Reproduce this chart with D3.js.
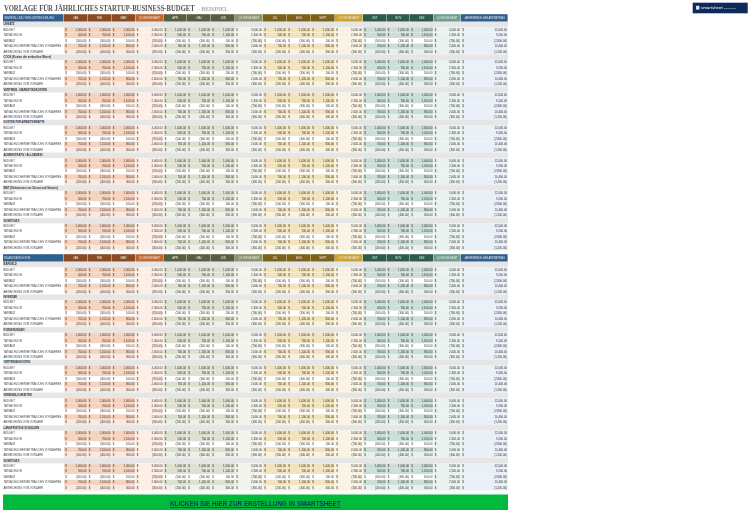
<!DOCTYPE html>
<html>
<head>
<meta charset="utf-8">
<script src="https://cdn.jsdelivr.net/npm/d3@7/dist/d3.min.js"></script>
<style>
  html, body { margin: 0; padding: 0; background: #fff; }
  svg { display: block; filter: blur(0.3px); }
  text { font-family: "Liberation Sans", Arial, sans-serif; }
</style>
</head>
<body>
<div id="chart"></div>
<script>
// data
var title = "VORLAGE FÜR JÄHRLICHES STARTUP-BUSINESS-BUDGET";
var titleSuffix = "- BEISPIEL";
var columns = ["JAN", "FEB", "MÄR", "Q1 INSGESAMT", "APR", "MAI", "JUN", "Q2 INSGESAMT",
  "JUL", "AUG", "SEPT", "Q3 INSGESAMT", "OKT", "NOV", "DEZ", "Q4 INSGESAMT", "JAHRESENDE-GESAMTBETRAG"];
var rowLabels = ["BUDGET", "TATSÄCHLICH", "VARIANZ", "TATSÄCHLICHER BETRAG DES VORJAHRES", "ABWEICHUNG VOM VORJAHR"];

var budget = [1000, 1000, 1000, 3000];
var actual = [500, 700, 1100, 2300];
var variance = [-500, -300, 100, -700];
var lastYear = [700, 1100, 800, 2600];
var yearDiff = [-200, -400, 300, -300];
var yearTotals = [12000, 9200, -2800, 10400, -1200];

var incomeHeader = "GEWINN- UND VERLUSTRECHNUNG";
var incomeSections = ["UMSATZ", "COGS (Kosten der verkauften Waren)", "VERTRIEB - MARKETINGKOSTEN",
  "KOSTEN FÜR ARBEITSKRÄFTE", "ADMINISTRATIV / ALLGEMEIN",
  "EBIT (Einkommen vor Zinsen und Steuern)", "SONSTIGES"];
var balanceHeader = "BILANZKATEGORIE";
var balanceSections = ["BARGELD", "INVENTAR", "FORDERUNGEN", "VERTRIEBSKOSTEN",
  "VERBINDLICHKEITEN", "LANGFRISTIGE SCHULDEN", "SONSTIGES"];
var buttonLabel = "KLICKEN SIE HIER ZUR ERSTELLUNG IN SMARTSHEET";

var svgWidth = 749, svgHeight = 512;

var svg = d3.select("#chart").append("svg")
  .attr("width", svgWidth)
  .attr("height", svgHeight);

// horizontal scale, columns measured in units of the picture
var colEdges = [64, 87.5, 111.5, 135.5, 163.5, 187, 211, 235, 263, 287, 311, 335, 363, 386.5, 410, 433.5, 461, 508];
var x = d3.scaleLinear().domain([0, 749]).range([0, 749]);
var rowH = 5.45;

// colour per quarter: header, quarter header, tinted cell, light cell, quarter cell
var quarterColors = [
  { head: "#8a4a23", qhead: "#c2682e", tint: "#f6d3bf", light: "#fbe9df", qcell: "#fdeee6" },
  { head: "#565f3f", qhead: "#8b9468", tint: "#dde1cf", light: "#eff1e8", qcell: "#f2f4ec" },
  { head: "#7d6119", qhead: "#cda232", tint: "#f3e3bc", light: "#f9f2df", qcell: "#faf3e3" },
  { head: "#2e5a50", qhead: "#6b9c8e", tint: "#cbded8", light: "#e6f0ec", qcell: "#e9f2ee" }
];
var blue = "#2f5f8c";
var blueCell = "#eaf0f8";

function money(v) {
  var s = d3.format(",.2f")(Math.abs(v));
  return v < 0 ? "(" + s + ")" : s + " ";
}

function colColor(i) {
  return quarterColors[Math.floor(i / 4)];
}

// squeeze a text to a measured width
function fitText(sel, px, py, w) {
  var natural = sel.node().getComputedTextLength();
  sel.attr("transform", "translate(" + px + "," + py + ") scale(" + (w / natural) + ",1)");
}

// title
var titleText = svg.append("text")
  .style("font-family", "'Liberation Serif', serif")
  .attr("font-size", 7.9)
  .attr("font-weight", "bold")
  .attr("fill", "#555555")
  .text(title);
fitText(titleText, x(4), 10.8, 191);

var suffixText = svg.append("text")
  .style("font-family", "'Liberation Serif', serif")
  .attr("font-size", 5.2)
  .attr("font-weight", "bold")
  .attr("fill", "#a9a9a9")
  .text(titleSuffix);
fitText(suffixText, x(198), 10.8, 30);

// logo box
svg.append("rect")
  .attr("x", x(692.7)).attr("y", 2.7).attr("width", 55).attr("height", 10.6)
  .attr("fill", "#0e2a5c");
svg.append("rect")
  .attr("x", x(696)).attr("y", 5.8).attr("width", 3.4).attr("height", 3.8)
  .attr("fill", "#dfe5ef");
svg.append("text")
  .attr("x", x(701)).attr("y", 9.3)
  .attr("font-size", 4.4).attr("fill", "#ffffff")
  .text("smartsheet");
svg.append("text")
  .attr("x", x(724)).attr("y", 9.3)
  .attr("font-size", 1.9).attr("fill", "#ccd5e5")
  .text("business tools");

function drawHeader(g, y0, label) {
  var h = 7.5;
  g.append("rect")
    .attr("x", x(3)).attr("y", y0).attr("width", x(63.5) - x(3)).attr("height", h)
    .attr("fill", blue);
  g.append("text")
    .attr("x", x(4)).attr("y", y0 + h / 2 + 0.9)
    .attr("font-size", 2.85).attr("fill", "#dfe7f0")
    .text(label);

  var cells = g.selectAll("g.headcell")
    .data(columns)
    .enter()
    .append("g")
    .classed("headcell", true);

  cells.append("rect")
    .attr("x", (d, i) => x(colEdges[i]))
    .attr("y", y0)
    .attr("width", (d, i) => x(colEdges[i + 1]) - x(colEdges[i]) - 0.4)
    .attr("height", h)
    .attr("fill", function(d, i) {
      if (i == 16) return blue;
      return i % 4 == 3 ? colColor(i).qhead : colColor(i).head;
    });

  cells.append("text")
    .attr("x", (d, i) => (x(colEdges[i]) + x(colEdges[i + 1])) / 2)
    .attr("y", y0 + h / 2 + 0.9)
    .attr("text-anchor", "middle")
    .attr("font-size", (d, i) => i == 16 ? 2.65 : 2.8)
    .attr("fill", "#ececec")
    .text(d => d);
}

function drawSection(g, y0, label) {
  // section band
  g.append("rect")
    .attr("x", x(3)).attr("y", y0).attr("width", x(508) - x(3)).attr("height", rowH)
    .attr("fill", "#e6e6e6");
  g.append("text")
    .attr("x", x(3.5)).attr("y", y0 + rowH / 2 + 0.9)
    .attr("font-size", 2.7).attr("font-weight", "bold").attr("fill", "#333")
    .text(label);

  var seriesRows = [budget, actual, variance, lastYear, yearDiff];

  var rows = g.selectAll("g.datarow")
    .data(rowLabels)
    .enter()
    .append("g")
    .classed("datarow", true)
    .attr("transform", (d, i) => "translate(0," + (y0 + rowH * (i + 1)) + ")");

  rows.append("text")
    .attr("x", x(3.5)).attr("y", rowH / 2 + 0.9)
    .attr("font-size", 2.72).attr("fill", "#444")
    .text(d => d);

  rows.each(function(label, r) {
    var row = d3.select(this);
    var vals = d3.range(16).map(i => seriesRows[r][i % 4]).concat([yearTotals[r]]);

    var cell = row.selectAll("g.cell")
      .data(vals)
      .enter()
      .append("g")
      .classed("cell", true);

    cell.append("rect")
      .attr("x", (d, i) => x(colEdges[i]))
      .attr("y", 0)
      .attr("width", (d, i) => x(colEdges[i + 1]) - x(colEdges[i]) - 0.25)
      .attr("height", rowH)
      .attr("fill", function(d, i) {
        if (i == 16) return blueCell;
        var c = colColor(i);
        if (i % 4 == 3) return c.qcell;
        if (r == 2) return "#ffffff";
        if (r == 4) return c.light;
        return c.tint;
      });

    cell.append("text")
      .attr("x", (d, i) => x(colEdges[i]) + 1.2)
      .attr("y", rowH / 2 + 0.9)
      .attr("font-size", 2.8).attr("fill", "#333")
      .text("$");

    cell.append("text")
      .attr("x", (d, i) => x(colEdges[i + 1]) - 1)
      .attr("y", rowH / 2 + 0.9)
      .attr("text-anchor", "end")
      .attr("font-size", 2.8).attr("fill", "#333")
      .text(d => money(d));
  });
}

var incomeGroup = svg.append("g");
drawHeader(incomeGroup, 14.2, incomeHeader);
incomeSections.forEach(function(s, i) {
  drawSection(svg.append("g"), 21.7 + i * rowH * 6, s);
});

var balanceGroup = svg.append("g");
drawHeader(balanceGroup, 254.2, balanceHeader);
balanceSections.forEach(function(s, i) {
  drawSection(svg.append("g"), 261.7 + i * rowH * 6, s);
});

// call to action button
svg.append("rect")
  .attr("x", x(3)).attr("y", 494.5).attr("width", x(508) - x(3)).attr("height", 15.5)
  .attr("fill", "#00b93d");
var buttonText = svg.append("text")
  .attr("font-size", 7.8)
  .attr("font-weight", "bold")
  .attr("fill", "#0b3a66")
  .attr("text-decoration", "underline")
  .text(buttonLabel);
fitText(buttonText, x(170), 506, 171);
</script>
</body>
</html>
